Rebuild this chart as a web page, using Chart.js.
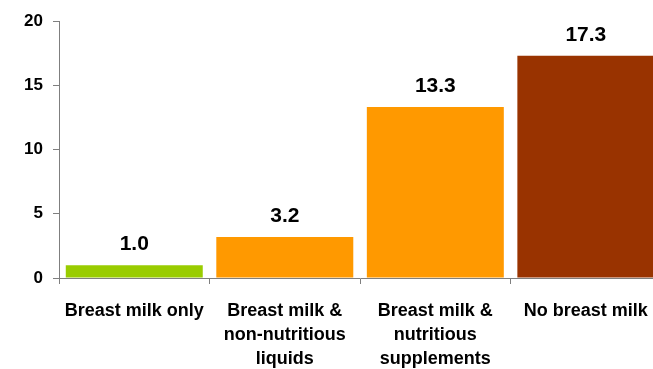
<!DOCTYPE html>
<html><head><meta charset="utf-8">
<script src="https://cdn.jsdelivr.net/npm/chart.js@4/dist/chart.umd.min.js"></script>
<style>
html,body{margin:0;padding:0;background:#fff;overflow:hidden;}
#wrap{width:663px;height:369px;position:relative;}
</style></head><body>
<div id="wrap"><canvas id="c"></canvas></div>
<script>
const categories = [["Breast milk only"], ["Breast milk &", "non-nutritious", "liquids"], ["Breast milk &", "nutritious", "supplements"], ["No breast milk"]];
const values = [1.0, 3.2, 13.3, 17.3];
const barColors = ["#99CC00", "#FF9900", "#FF9900", "#993300"];
const yTicks = [0, 5, 10, 15, 20];

const FONT = "'Liberation Sans', Arial, sans-serif";

const valueLabels = {
  id: 'valueLabels',
  afterDatasetsDraw(chart) {
    const ctx = chart.ctx;
    const meta = chart.getDatasetMeta(0);
    ctx.save();
    ctx.font = "bold 21px " + FONT;
    ctx.fillStyle = "#000";
    ctx.textAlign = "center";
    ctx.textBaseline = "bottom";
    meta.data.forEach((bar, i) => {
      ctx.fillText(values[i].toFixed(1), bar.x, bar.y - 10);
    });
    ctx.restore();
  }
};

new Chart(document.getElementById('c'), {
  type: 'bar',
  data: {
    labels: categories,
    datasets: [{
      data: values,
      backgroundColor: barColors,
      borderWidth: 0,
      categoryPercentage: 1.0,
      barPercentage: 0.91
    }]
  },
  options: {
    responsive: true,
    maintainAspectRatio: false,
    animation: false,
    layout: { padding: { top: 21, right: 1, left: 0, bottom: 0 } },
    plugins: { legend: { display: false }, tooltip: { enabled: false } },
    scales: {
      y: {
        min: 0, max: 20,
        afterBuildTicks(scale) { scale.ticks = yTicks.map(v => ({ value: v })); },
        afterFit(scale) { scale.width = 59; },
        border: { display: true, color: '#7f7f7f', width: 1 },
        grid: { display: true, drawOnChartArea: false, drawTicks: true, tickLength: 6, color: '#7f7f7f' },
        ticks: { color: '#000', padding: 10, font: { family: FONT, size: 17, weight: 'bold' } }
      },
      x: {
        offset: true,
        afterFit(scale) { scale.height = 91; },
        border: { display: true, color: '#7f7f7f', width: 1 },
        grid: { display: true, offset: true, drawOnChartArea: false, drawTicks: true, tickLength: 6, color: '#7f7f7f' },
        ticks: { color: '#000', padding: 15, maxRotation: 0, autoSkip: false, font: { family: FONT, size: 18, weight: 'bold', lineHeight: 1.333 } }
      }
    }
  },
  plugins: [valueLabels]
});
</script>
</body></html>
